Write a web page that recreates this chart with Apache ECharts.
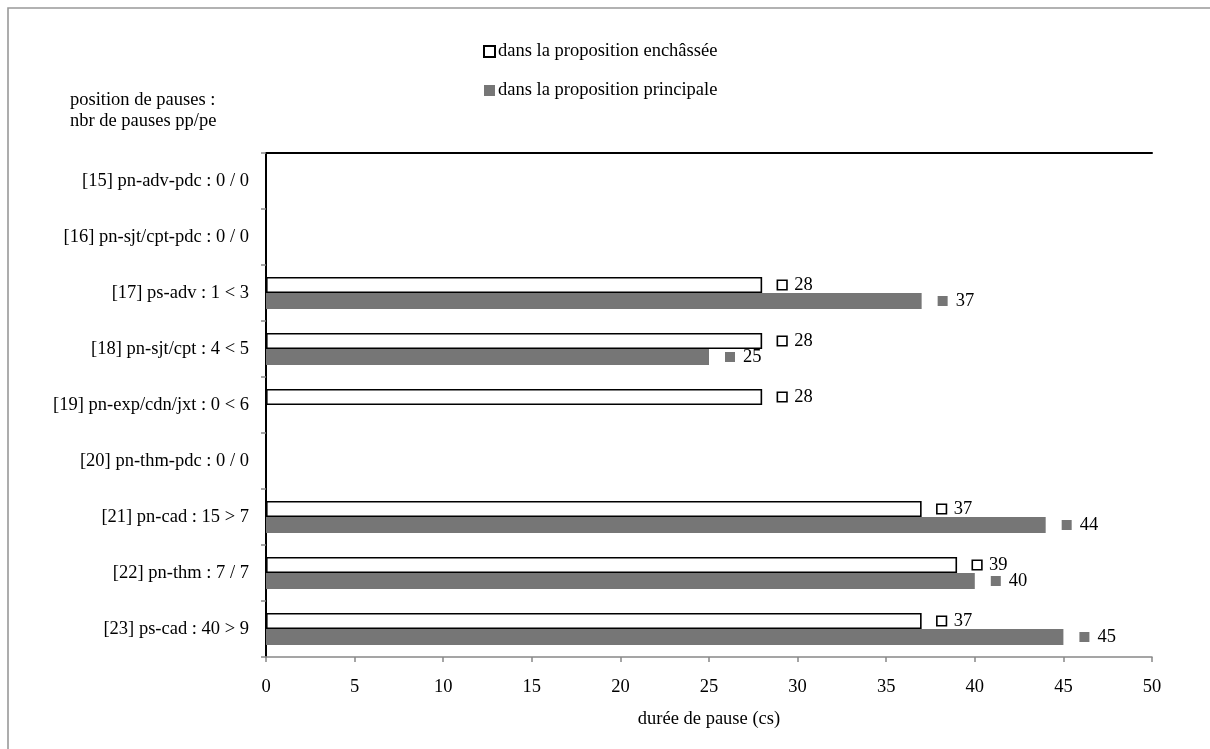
<!DOCTYPE html>
<html>
<head>
<meta charset="utf-8">
<script src="https://cdn.jsdelivr.net/npm/echarts@6/dist/echarts.min.js"></script>
<style>
html,body{margin:0;padding:0;background:#fff;}
#main{width:1210px;height:749px;}
</style>
</head>
<body>
<div id="main"></div>
<script>
const categories = [
  "[15] pn-adv-pdc : 0 / 0",
  "[16] pn-sjt/cpt-pdc : 0 / 0",
  "[17] ps-adv : 1 < 3",
  "[18] pn-sjt/cpt : 4 < 5",
  "[19] pn-exp/cdn/jxt : 0 < 6",
  "[20] pn-thm-pdc : 0 / 0",
  "[21] pn-cad : 15 > 7",
  "[22] pn-thm : 7 / 7",
  "[23] ps-cad : 40 > 9"
];
const enchassee = [null, null, 28, 28, 28, null, 37, 39, 37];
const principale = [null, null, 37, 25, null, null, 44, 40, 45];
const seriesNames = ["dans la proposition enchâssée", "dans la proposition principale"];
const xTicks = {min: 0, max: 50, interval: 5};

const FONT = "Liberation Serif";
const FS = 18.5;
const GRAY = "#767676";

function makeLabel(key) {
  return {
    show: true,
    position: "right",
    distance: 16,
    formatter: function (p) { return "{" + key + "|}{t|" + p.value + "}"; },
    rich: {
      w: {width: 8, height: 8, backgroundColor: "#fff", borderColor: "#000", borderWidth: 1.6},
      g: {width: 10, height: 10, backgroundColor: GRAY},
      t: {fontFamily: FONT, fontSize: FS, color: "#000", padding: [0, 0, 0, 8]}
    }
  };
}

const chart = echarts.init(document.getElementById("main"), null, {renderer: "canvas"});
chart.setOption({
  animation: false,
  backgroundColor: "#fff",
  textStyle: {fontFamily: FONT, fontSize: FS, color: "#000"},
  title: {
    text: "position de pauses :\nnbr de pauses pp/pe",
    left: 70, top: 90, padding: 0,
    textStyle: {fontFamily: FONT, fontSize: FS, fontWeight: "normal", color: "#000", lineHeight: 21}
  },
  legend: {
    orient: "vertical",
    left: 483, top: 42, padding: 0,
    itemWidth: 11, itemHeight: 11,
    itemGap: 20,
    icon: "rect",
    textStyle: {fontFamily: FONT, fontSize: FS, color: "#000", padding: [0, 0, 0, -2]},
    data: seriesNames
  },
  graphic: [{
    type: "rect", silent: true,
    shape: {x: 8, y: 8, width: 1220, height: 760},
    style: {fill: null, stroke: "#999", lineWidth: 1.6}
  }],
  grid: {left: 266, right: 58, top: 153, bottom: 92, containLabel: false},
  xAxis: [{
    type: "value", min: xTicks.min, max: xTicks.max, interval: xTicks.interval,
    position: "bottom",
    name: "durée de pause (cs)", nameLocation: "middle", nameGap: 53,
    nameTextStyle: {fontFamily: FONT, fontSize: FS, color: "#000"},
    axisLine: {show: true, lineStyle: {color: "#888", width: 1.5}},
    axisTick: {show: true, length: 5, lineStyle: {color: "#888", width: 1.5}},
    axisLabel: {fontFamily: FONT, fontSize: FS, color: "#000", margin: 21},
    splitLine: {show: false}
  }, {
    type: "value", min: xTicks.min, max: xTicks.max, position: "top",
    axisLine: {show: true, lineStyle: {color: "#000", width: 2}},
    axisTick: {show: false}, axisLabel: {show: false}, splitLine: {show: false}
  }],
  yAxis: [{
    type: "category", data: categories, inverse: true,
    axisLine: {show: true, lineStyle: {color: "#888", width: 1.5}},
    axisTick: {show: true, length: 5, lineStyle: {color: "#888", width: 1.5}},
    axisLabel: {fontFamily: FONT, fontSize: FS, color: "#000", margin: 17}
  }, {
    type: "value", position: "right", min: 0, max: 1,
    axisLine: {show: true, lineStyle: {color: "#000", width: 2}},
    axisTick: {show: false}, axisLabel: {show: false}, splitLine: {show: false}
  }],
  series: [{
    name: seriesNames[0], type: "bar", data: enchassee,
    barWidth: 16, barGap: "0%",
    itemStyle: {color: "#fff", borderColor: "#000", borderWidth: 1.6},
    label: makeLabel("w")
  }, {
    name: seriesNames[1], type: "bar", data: principale,
    barWidth: 16, barGap: "0%",
    itemStyle: {color: GRAY},
    label: makeLabel("g")
  }]
});
</script>
</body>
</html>
